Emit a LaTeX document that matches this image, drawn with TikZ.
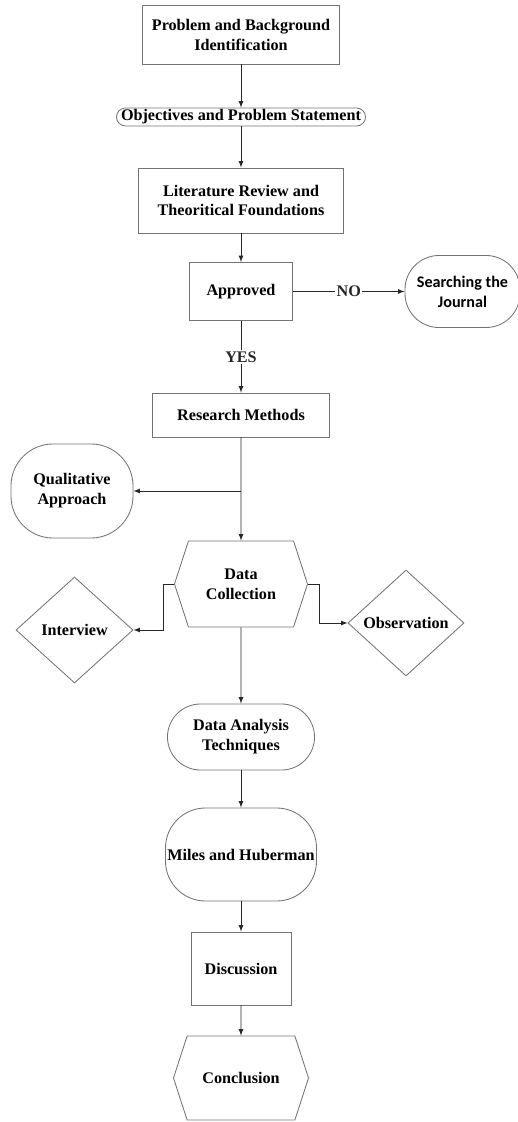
\documentclass[tikz,border=0pt]{standalone}
\usepackage{fontspec}
\setmainfont{Liberation Serif}
\newfontfamily\calibri{Carlito}
\usetikzlibrary{arrows,calc,positioning,shapes.geometric,shapes.symbols}

\begin{document}
\begin{tikzpicture}[x=0.025cm,y=-0.025cm,
every node/.style={font=\bfseries\fontsize{11.5}{14.2}\selectfont,align=center,draw=black!55,line width=0.6pt,inner sep=1pt},
box/.style={rectangle},
pill/.style={rectangle,rounded corners=#1},
hexa/.style={signal,signal to=west and east,signal pointer angle=144},
rhombus/.style={diamond,inner sep=0pt},
tag/.style={draw=none,fill=white,inner sep=1pt},
link/.style={->,>=latex,line width=0.6pt,black!85}]
\useasboundingbox (0,0) rectangle (518,1122);

\node[box,minimum width=4.925cm,minimum height=1.475cm] (pb) at (241,34.5) {Problem and Background\\Identification};
\node[pill=0.225cm,minimum width=6.225cm,minimum height=0.45cm] (os) at (241,117) {Objectives and Problem Statement};
\node[box,minimum width=5.125cm,minimum height=1.625cm] (lr) at (241,200.5) {Literature Review and\\Theoritical Foundations};
\node[box,minimum width=2.575cm,minimum height=1.45cm] (ap) at (241,291.5) {Approved};
\node[pill=0.85cm,minimum width=2.875cm,minimum height=1.8cm,font=\calibri\bfseries\fontsize{11.5}{14.2}\selectfont] (sj) at (462.5,291.5) {Searching the\\Journal};
\node[box,minimum width=4.425cm,minimum height=1.1cm] (rm) at (241,415) {Research Methods};
\node[pill=1.05cm,minimum width=3.05cm,minimum height=2.35cm] (qa) at (72,491) {Qualitative\\Approach};
\node[hexa,minimum width=3.325cm,minimum height=2.15cm] (dc) at (241,584) {Data\\Collection};
\node[rhombus,minimum width=2.925cm,minimum height=2.65cm] (iv) at (74.5,630) {Interview};
\node[rhombus,minimum width=2.9cm,minimum height=2.65cm] (ob) at (406,623) {Observation};
\node[pill=0.825cm,minimum width=3.675cm,minimum height=1.65cm] (da) at (241,737) {Data Analysis\\Techniques};
\node[pill=1.0cm,minimum width=3.775cm,minimum height=2.325cm] (mh) at (241,854.5) {Miles and Huberman};
\node[box,minimum width=2.5cm,minimum height=1.825cm] (di) at (241,968.5) {Discussion};
\node[hexa,minimum width=3.375cm,minimum height=2.1cm] (co) at (241,1078) {Conclusion};

\draw[link] (pb) -- (os);
\draw[link] (os) -- (lr);
\draw[link] (lr) -- (ap);
\draw[link] (ap) -- node[tag]{NO} (sj);
\draw[link] (ap) -- node[tag]{YES} (rm);
\draw[link] (rm) -- (dc);
\draw[link] (qa.east -| rm.south) -- (qa.east);
\draw[link] (dc.west) -- ++(-11,0) |- (iv.east);
\draw[link] (dc.east) -- ++(11,0) |- (ob.west);
\draw[link] (dc) -- (da);
\draw[link] (da) -- (mh);
\draw[link] (mh) -- (di);
\draw[link] (di) -- (co);
\end{tikzpicture}
\end{document}
